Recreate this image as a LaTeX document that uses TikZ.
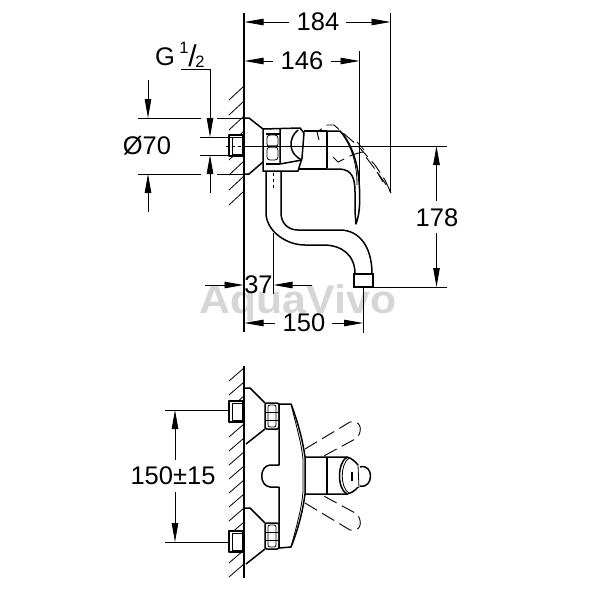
\documentclass[tikz,border=0pt]{standalone}
\usepackage{fontspec}
\setmainfont{Liberation Sans}
\usetikzlibrary{arrows.meta}
\tikzset{
  thin line/.style={line width=0.8pt},
  body line/.style={line width=1.5pt,line join=round},
  heavy line/.style={line width=2.2pt},
  swing line/.style={line width=0.9pt,dash pattern=on 14pt off 6pt},
  dim line/.style={line width=0.8pt,-{Triangle[length=19pt,width=6.5pt]}},
  dim label/.style={font=\fontsize{25.5}{25.5}\selectfont,inner sep=0pt},
}
\begin{document}
\begin{tikzpicture}[x=1pt,y=-1pt]
        \useasboundingbox (0,0) rectangle (600,600);
        % watermark
        \node[text=black!16,font=\fontsize{40}{40}\selectfont\bfseries,inner sep=0pt,xscale=1.07] (mark) at (298,303) {AquaVivo};
        % wall of side view
        \draw[body line] (244,13) coordinate (wallA) -- (244,332) coordinate (wallB);
        \foreach \y in {86,101,116,131,146,161,176,191}
            \draw[thin line] (244,\y)--(229,\y+14);
        % wall of front view
        \draw[body line] (244,366) coordinate (wallC) -- (244,578) coordinate (wallD);
        \foreach \y in {368,382,396,410,424,438,452,466,480,494,508,522,536,550,564}
            \draw[thin line] (244,\y)--(229,\y+13);
        % side view: fitting and flange
        \filldraw[body line,fill=white] (229,135) rectangle (243,156);
        \draw[thin line] (232,137) rectangle (243,154);
        \draw[heavy line] (229,135)--(243,135) (229,156)--(243,156);
        \draw[body line] (245,118)--(249,118)--(263,129) (245,174)--(249,174)--(263,162);
        % side view: nut and body
        \draw[body line] (263,129)--(263,171)--(298,171)--(302,158)--(304,133)--(300,128)--(263,129);
        \draw[body line] (280,129)--(280,164)--(302,160);
        \draw[heavy line] (266,134)--(280,134) (266,164)--(280,164);
        \draw[thin line,rounded corners=3pt] (267,135) rectangle (278,147);
        \draw[thin line,rounded corners=3pt] (267,147) rectangle (278,160);
        \draw[line width=2.4pt,black!60] (268,146)--(277,146);
        \draw[body line] (298,130) .. controls (288,138) and (288,154) .. (302,160);
        \draw[body line] (304,131)--(327,131) (298,169)--(327,169);
        \draw[heavy line] (327,131)--(327,168);
        % side view: lever
        \draw[body line] (327,169) -- (340,169) .. controls (352,170) and (355,178) .. (355,192) -- (355,212) -- (356,224)
            .. controls (360,214) and (361,196) .. (358,172) .. controls (355,155) and (349,140) .. (340,131) -- (327,131);
        \draw[thin line] (340,131) .. controls (350,144) and (357,160) .. (357,185);
        % side view: swung lever
        \draw[swing line] (319,140)--(317,132)--(327,125)--(334,125)--(342,132)--(358,146)--(375,165)--(385,180)--(391,193);
        \draw[swing line] (333,157)--(338,162)--(352,155)--(362,152)--(372,165)--(385,183)--(391,193);
        \draw[thin line] (357,142)--(364,150) (377,172)--(383,182);
        % side view: spout
        \draw[body line] (266,171)--(266,213) .. controls (266,230) and (285,245) .. (305,245) -- (323,245)
            .. controls (342,245) and (355,255) .. (355,274);
        \draw[body line] (281,171)--(281,213) .. controls (281,223) and (288,230) .. (298,230) -- (340,230)
            .. controls (358,230) and (372,245) .. (372,274);
        \draw[heavy line] (354,274) rectangle (373,287);
        % side view: axes
        \draw[thin line,dashed] (226,146)--(245,146);
        \draw[thin line] (245,146)--(447,146);
        \draw[thin line,dashed] (273,173)--(273,190);
        \draw[thin line] (273,233)--(273,294);
        % front view: fittings
        \foreach \c in {411,541}{
            \filldraw[body line,fill=white] (229,\c-10) rectangle (243,\c+11);
            \draw[heavy line] (229,\c-10)--(243,\c-10) (229,\c+11)--(243,\c+11);
            \draw[thin line] (232,\c-8) rectangle (243,\c+9);
        }
        % front view: flanges and nuts
        \foreach \c in {416,536}{
            \draw[body line] (245,\c-28)--(250,\c-28)--(265,\c-13) (265,\c+13)--(246,\c+28);
            \draw[body line,rounded corners=2pt] (265,\c-13) rectangle (279,\c+13);
            \draw[thin line,rounded corners=2pt] (268,\c-11) rectangle (276,\c+11);
            \draw[thin line] (266,\c-4)--(278,\c-4) (266,\c+4)--(278,\c+4);
        }
        % front view: body
        \draw[body line] (279,404)--(291,404) .. controls (298,422) and (303,442) .. (305,457) -- (305,494)
            .. controls (303,510) and (298,530) .. (291,547) -- (279,548) -- (279,487) -- (270,487)
            .. controls (259,486) and (259,466) .. (270,465) -- (279,465) -- cycle;
        \draw[thin line] (291,404) .. controls (296,425) and (302,445) .. (303,460) -- (303,491)
            .. controls (302,508) and (296,528) .. (291,547);
        % front view: handle
        \draw[body line] (305,457)--(347,457) .. controls (351,458) and (355,461) .. (358,465)
            (305,494)--(347,494) .. controls (351,493) and (355,491) .. (358,487);
        \draw[heavy line] (327,457)--(327,494);
        \draw[body line] (347,457) .. controls (337,463) and (337,489) .. (347,494);
        \draw[thin line] (349,458) .. controls (340,464) and (340,488) .. (349,493);
        \draw[body line] (360,467) .. controls (374,463) and (374,489) .. (360,486);
        \draw[heavy line] (352,472)--(352,481);
        \draw[thin line] (358,465)--(359,488);
        % front view: swung handles
        \draw[swing line] (305,449)--(350,422) .. controls (361,420) and (363,430) .. (357,438) -- (322,457);
        \draw[swing line] (305,503)--(350,530) .. controls (361,532) and (363,522) .. (357,514) -- (322,495);
        % dimension 184
        \node[dim label] (wide) at (318,22) {184};
        \draw[thin line] (390.5,13) coordinate (wideR) -- (390.5,193);
        \draw[dim line] (289,22)--(244.5,22);
        \draw[dim line] (346,22)--(390.5,22);
        % dimension 146
        \node[dim label] (reach) at (302,61) {146};
        \draw[thin line] (359.5,51) coordinate (reachR) -- (359.5,200);
        \draw[dim line] (273,61)--(244.5,61);
        \draw[dim line] (331,61)--(359.5,61);
        % thread
        \node[dim label,anchor=base west] (thread) at (155,65.5) {G};
        \node[inner sep=0pt,font=\fontsize{16.5}{16.5}\selectfont] (one) at (184,47.5) {1};
        \node[inner sep=0pt,font=\fontsize{30}{30}\selectfont] (slash) at (192.5,56) {/};
        \node[inner sep=0pt,font=\fontsize{16.5}{16.5}\selectfont] (two) at (200,62) {2};
        \draw[thin line] (181,69) coordinate (threadA) -- (210,69) coordinate (threadB);
        \draw[dim line] (threadB)--(210,137);
        \draw[thin line] (200,137)--(243,137) (200,155)--(243,155);
        \draw[dim line] (210,193)--(210,155);
        % dimension 70
        \node[dim label] (dia) at (147,146) {Ø70};
        \draw[thin line] (138,118)--(201,118) (217,118)--(247,118);
        \draw[thin line] (138,174)--(201,174) (217,174)--(247,174);
        \draw[dim line] (148,80)--(148,118);
        \draw[dim line] (148,212)--(148,174);
        % dimension 178
        \node[dim label] (height) at (437,218) {178};
        \draw[thin line] (373,287.5)--(447,287.5);
        \draw[dim line] (436.5,201)--(436.5,146);
        \draw[dim line] (436.5,233)--(436.5,287);
        % dimension 37
        \node[dim label] (offset) at (258.5,285) {37};
        \draw[dim line] (205,285)--(243.5,285);
        \draw[dim line] (312,285)--(273.5,285);
        % dimension 150
        \node[dim label] (span) at (304,323) {150};
        \draw[thin line] (363,288)--(363,333);
        \draw[dim line] (275,323)--(244.5,323);
        \draw[dim line] (332,323)--(363,323);
        % dimension 150+-15
        \node[dim label] (pitch) at (173,476) {150±15};
        \draw[thin line] (165,410)--(229,410) (165,542)--(229,542);
        \draw[dim line] (175,460)--(175,410);
        \draw[dim line] (175,492)--(175,542);
    \end{tikzpicture}
\end{document}
